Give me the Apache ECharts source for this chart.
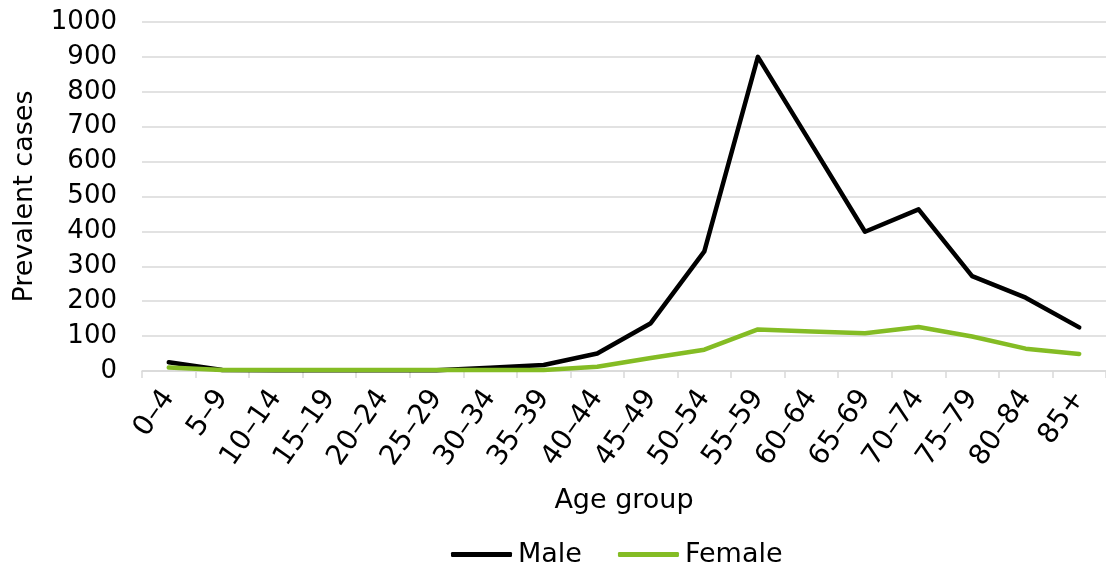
<!DOCTYPE html>
<html>
<head>
<meta charset="utf-8">
<script src="https://cdn.jsdelivr.net/npm/echarts@6/dist/echarts.min.js"></script>
<style>
  html, body { margin: 0; padding: 0; background: #fff; }
  #chart { width: 1106px; height: 566px; }
</style>
</head>
<body>
<div id="chart"></div>
<script>
// Age groups on the horizontal axis
const ageGroups = ['0–4', '5–9', '10–14', '15–19', '20–24', '25–29', '30–34', '35–39', '40–44',
  '45–49', '50–54', '55–59', '60–64', '65–69', '70–74', '75–79', '80–84', '85+'];

// Prevalent cases per age group
const maleCases = [25, 3, 2, 2, 2, 2, 9, 17, 50, 137, 343, 900, 650, 399, 463, 272, 210, 125];
const femaleCases = [10, 3, 3, 3, 3, 3, 3, 3, 12, 37, 61, 119, 113, 108, 126, 99, 64, 49];

const yTicks = { min: 0, max: 1000, interval: 100 };

const FONT = 'DejaVu Sans';
const chart = echarts.init(document.getElementById('chart'), null, { renderer: 'canvas' });

chart.setOption({
  animation: false,
  textStyle: { fontFamily: FONT, color: '#000' },
  grid: { left: 142, right: 0, top: 22, bottom: 195, containLabel: false },
  legend: {
    data: ['Male', 'Female'],
    top: 536,
    left: 446,
    icon: 'roundRect',
    itemWidth: 61,
    itemHeight: 5,
    itemGap: 36,
    textStyle: { fontFamily: FONT, fontSize: 27, color: '#000', padding: [0, 0, 0, 1] }
  },
  xAxis: {
    type: 'category',
    data: ageGroups,
    boundaryGap: true,
    name: 'Age group',
    nameLocation: 'middle',
    nameGap: 116,
    nameTextStyle: { fontFamily: FONT, fontSize: 27, color: '#000' },
    axisLine: { lineStyle: { color: '#d9d9d9', width: 1.5 } },
    axisTick: { show: true, length: 7, lineStyle: { color: '#d9d9d9', width: 1.5 } },
    axisLabel: { rotate: 55, margin: 22, fontFamily: FONT, fontSize: 28, color: '#000', interval: 0, hideOverlap: false }
  },
  yAxis: {
    type: 'value',
    min: yTicks.min,
    max: yTicks.max,
    interval: yTicks.interval,
    name: 'Prevalent cases',
    nameLocation: 'middle',
    nameGap: 104,
    nameTextStyle: { fontFamily: FONT, fontSize: 27, color: '#000' },
    axisLine: { show: false },
    axisTick: { show: false },
    axisLabel: {
      margin: 25, fontFamily: FONT, fontSize: 26, color: '#000',
      formatter: (v) => String(v)
    },
    splitLine: { lineStyle: { color: '#d9d9d9', width: 1.5 } }
  },
  series: [
    {
      name: 'Male',
      type: 'line',
      data: maleCases,
      symbol: 'none',
      lineStyle: { color: '#000000', width: 4.5, cap: 'round', join: 'round' },
      itemStyle: { color: '#000000' }
    },
    {
      name: 'Female',
      type: 'line',
      data: femaleCases,
      symbol: 'none',
      lineStyle: { color: '#84bc24', width: 4.5, cap: 'round', join: 'round' },
      itemStyle: { color: '#84bc24' }
    }
  ]
});
</script>
</body>
</html>
